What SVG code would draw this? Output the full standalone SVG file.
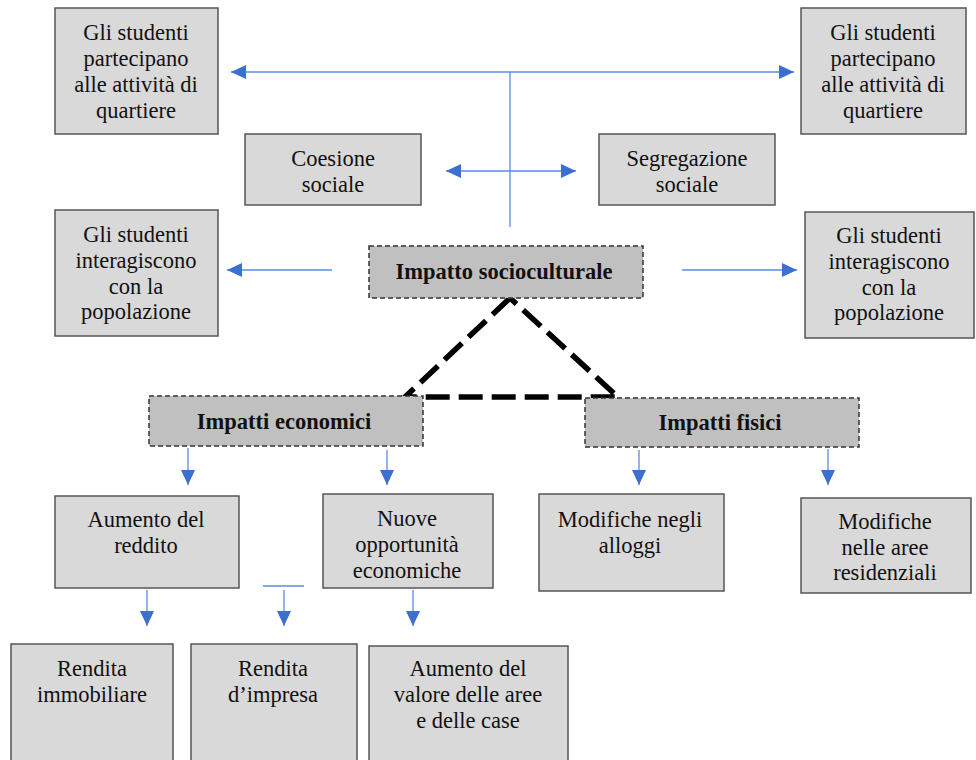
<svg xmlns="http://www.w3.org/2000/svg" width="976" height="760" viewBox="0 0 976 760">
<style>
.box{fill:#d9d9d9;stroke:#555;stroke-width:1.5}
.dbox{fill:#c0c0c0;stroke:#333;stroke-width:1.5;stroke-dasharray:5 3}
text{font-family:"Liberation Serif","Times New Roman",serif;font-size:22.5px;fill:#111;text-anchor:middle}
.b{font-weight:bold;font-size:22.5px}
.ln{stroke:#5b8ce0;stroke-width:1.3;fill:none}
.tri{stroke:#000;stroke-width:5.5;fill:none;stroke-dasharray:24 9}
</style>
<defs>
<marker id="ah" markerUnits="userSpaceOnUse" markerWidth="15" markerHeight="14" refX="15" refY="7" orient="auto-start-reverse" viewBox="0 0 15 14">
<path d="M0,0 L15,7 L0,14 z" fill="#3b6fd0"/>
</marker>
</defs>
<rect width="976" height="760" fill="#fff"/>
<g id="connectors">
<line class="ln" x1="231" y1="72" x2="794" y2="72" marker-start="url(#ah)" marker-end="url(#ah)"/>
<line class="ln" x1="510" y1="72" x2="510" y2="227"/>
<line class="ln" x1="446" y1="171" x2="576" y2="171" marker-start="url(#ah)" marker-end="url(#ah)"/>
<line class="ln" x1="332" y1="270" x2="227" y2="270" marker-end="url(#ah)"/>
<line class="ln" x1="682" y1="270" x2="797" y2="270" marker-end="url(#ah)"/>
<path class="tri" d="M510,298 L405,397 L618,397 Z"/>
<line class="ln" x1="188" y1="448" x2="188" y2="485" marker-end="url(#ah)"/>
<line class="ln" x1="387" y1="450" x2="387" y2="485" marker-end="url(#ah)"/>
<line class="ln" x1="639" y1="450" x2="639" y2="485" marker-end="url(#ah)"/>
<line class="ln" x1="828" y1="449" x2="828" y2="485" marker-end="url(#ah)"/>
<line class="ln" x1="147" y1="590" x2="147" y2="626" marker-end="url(#ah)"/>
<line class="ln" x1="263" y1="586" x2="304" y2="586"/>
<line class="ln" x1="284" y1="590" x2="284" y2="626" marker-end="url(#ah)"/>
<line class="ln" x1="413" y1="590" x2="413" y2="626" marker-end="url(#ah)"/>
</g>
<g id="n-part-left"><rect class="box" x="55" y="8" width="163" height="126"/>
<text x="136" y="40">Gli studenti</text><text x="136" y="66">partecipano</text><text x="136" y="92">alle attività di</text><text x="136" y="118">quartiere</text></g>
<g id="n-part-right"><rect class="box" x="801" y="8" width="165" height="126"/>
<text x="883" y="40">Gli studenti</text><text x="883" y="66">partecipano</text><text x="883" y="92">alle attività di</text><text x="883" y="118">quartiere</text></g>
<g id="n-coesione"><rect class="box" x="245" y="134" width="176" height="71"/>
<text x="333" y="166">Coesione</text><text x="333" y="192">sociale</text></g>
<g id="n-segregazione"><rect class="box" x="599" y="134" width="176" height="71"/>
<text x="687" y="166">Segregazione</text><text x="687" y="192">sociale</text></g>
<g id="n-inter-left"><rect class="box" x="55" y="210" width="163" height="126"/>
<text x="136" y="242">Gli studenti</text><text x="136" y="268">interagiscono</text><text x="136" y="294">con la</text><text x="136" y="319">popolazione</text></g>
<g id="n-inter-right"><rect class="box" x="805" y="212" width="169" height="126"/>
<text x="889" y="243">Gli studenti</text><text x="889" y="269">interagiscono</text><text x="889" y="295">con la</text><text x="889" y="320">popolazione</text></g>
<g id="n-socio"><rect class="dbox" x="369" y="246" width="274" height="52"/>
<text class="b" x="504" y="279">Impatto socioculturale</text></g>
<g id="n-economici"><rect class="dbox" x="149" y="396" width="274" height="50"/>
<text class="b" x="284" y="429">Impatti economici</text></g>
<g id="n-fisici"><rect class="dbox" x="585" y="398" width="274" height="49"/>
<text class="b" x="720" y="430">Impatti fisici</text></g>
<g id="n-reddito"><rect class="box" x="55" y="496" width="184" height="92"/>
<text x="146" y="527">Aumento del</text><text x="146" y="553">reddito</text></g>
<g id="n-nuove"><rect class="box" x="323" y="494" width="170" height="94"/>
<text x="407" y="526">Nuove</text><text x="407" y="552">opportunità</text><text x="407" y="578">economiche</text></g>
<g id="n-alloggi"><rect class="box" x="539" y="494" width="185" height="97"/>
<text x="630" y="527">Modifiche negli</text><text x="630" y="553">alloggi</text></g>
<g id="n-aree"><rect class="box" x="801" y="498" width="170" height="95"/>
<text x="885" y="529">Modifiche</text><text x="885" y="555">nelle aree</text><text x="885" y="580">residenziali</text></g>
<g id="n-immobiliare"><rect class="box" x="11" y="644" width="162" height="126"/>
<text x="92" y="676">Rendita</text><text x="92" y="702">immobiliare</text></g>
<g id="n-impresa"><rect class="box" x="191" y="644" width="166" height="126"/>
<text x="273" y="676">Rendita</text><text x="273" y="702">d’impresa</text></g>
<g id="n-valore"><rect class="box" x="369" y="646" width="199" height="124"/>
<text x="468" y="676">Aumento del</text><text x="468" y="702">valore delle aree</text><text x="468" y="728">e delle case</text></g>
</svg>
